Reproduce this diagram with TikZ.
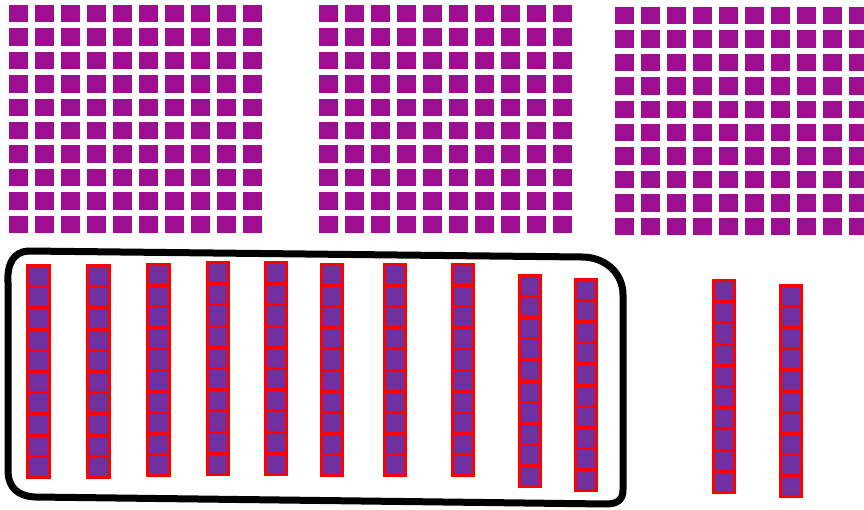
\documentclass[tikz,border=0pt]{standalone}
\definecolor{hund}{RGB}{157,14,145}
\definecolor{tenfill}{RGB}{112,48,160}
\tikzset{
  hunit/.style={fill=hund},
  tunit/.style={fill=tenfill, draw=red, line width=3},
  loopline/.style={draw=black, line width=7, line join=round, line cap=round}
}
\begin{document}
\begin{tikzpicture}[x=1pt,y=-1pt]
\useasboundingbox (0,0) rectangle (864,510);
\clip (0,0) rectangle (864,510);
% hundreds
\foreach \gx/\gy in {9/5, 319/5, 615/7} {
  \foreach \i in {0,...,9} {
    \foreach \j in {0,...,9} {
      \path[hunit] ({\gx+26*\i},{\gy+23.4*\j}) rectangle ++(18.5,17.5);
    }
  }
}
% tens rods
\foreach \xl/\yt/\xr/\yb in {26/264/51/479, 86/264/111/479, 146/263/171/477, 206/261/230/476,
  264/261/288/476, 320/263/344/477, 383/263/407/477, 451/263/475/477,
  518/274/542/488, 574/278/598/492, 712/279/736/494, 779/284/803/498} {
  \foreach \k in {0,...,9} {
    \path[tunit] ({\xl+1.5},{\yt+1.5+(\yb-\yt-3)*\k/10}) rectangle ({\xr-1.5},{\yt+1.5+(\yb-\yt-3)*(\k+1)/10});
  }
}
% loop round ten rods
\path[loopline] (8,282) .. controls (7,263) and (14,252) .. (28,251) -- (582,257)
  .. controls (604,257) and (623,272) .. (623,295) -- (623,490)
  .. controls (623,500) and (617,504) .. (606,504) -- (35,497)
  .. controls (18,496) and (8,488) .. (8,470) -- cycle;
\end{tikzpicture}
\end{document}
